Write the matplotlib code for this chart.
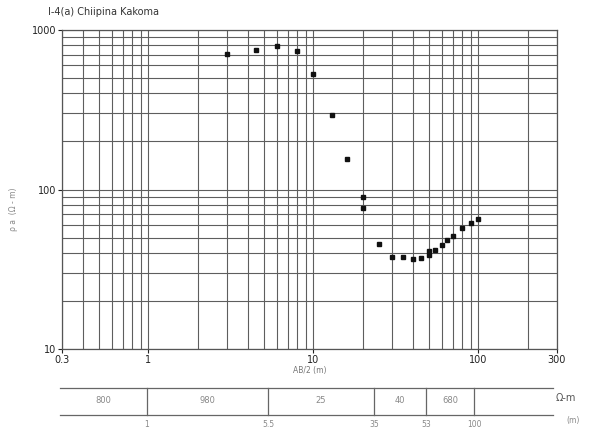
import matplotlib
matplotlib.use("Agg")
import matplotlib.pyplot as plt
from matplotlib.ticker import FixedLocator, NullFormatter

# Sounding data: half electrode spacing AB/2 (m) and apparent resistivity (ohm-m)
ab2 = [3, 4.5, 6, 8, 10, 13, 16, 20, 20, 25, 30, 35, 40, 45, 50, 50, 55,
       60, 65, 70, 80, 90, 100]
rho_a = [707, 750, 797, 735, 527, 293, 156, 90, 77, 45.5, 37.9, 37.8, 36.5,
         37, 38.7, 41.3, 41.8, 45, 48.2, 51, 57.6, 61.4, 65]

x_ticks = [0.3, 1, 10, 100, 300]
x_tick_labels = ["0.3", "1", "10", "100", "300"]
y_ticks = [10, 100, 1000]
y_tick_labels = ["10", "100", "1000"]

# Interpreted layer model
layer_resistivity = ["800", "980", "25", "40", "680", ""]
layer_depth_labels = ["1", "5.5", "35", "53", "100"]

title_text = "I-4(a) Chiipina Kakoma"

W, H = 591, 429
fig = plt.figure(figsize=(W / 100, H / 100), dpi=100)
fig.patch.set_facecolor("white")

# Main log-log sounding curve
ax = fig.add_axes([62 / W, 1 - 349 / H, (557 - 62) / W, (349 - 30) / H])
ax.set_xscale("log")
ax.set_yscale("log")
ax.set_xlim(0.3, 300)
ax.set_ylim(10, 1000)

grid_kw = dict(color="#5e5e5e", linewidth=0.8)
ax.grid(True, which="both", axis="both", **grid_kw)
ax.set_axisbelow(True)

ax.plot(ab2, rho_a, linestyle="none", marker="s", markersize=2.8,
        color="#111111", zorder=3)

ax.xaxis.set_major_locator(FixedLocator(x_ticks))
ax.set_xticklabels(x_tick_labels)
ax.yaxis.set_major_locator(FixedLocator(y_ticks))
ax.set_yticklabels(y_tick_labels)
ax.xaxis.set_minor_formatter(NullFormatter())
ax.yaxis.set_minor_formatter(NullFormatter())
ax.tick_params(which="major", length=3, width=0.8, labelsize=7, pad=1,
               colors="#222222")
ax.tick_params(which="minor", length=0)
for s in ax.spines.values():
    s.set_color("#555555")
    s.set_linewidth(0.9)

ax.set_xlabel("AB/2 (m)", fontsize=5.5, color="#777777", labelpad=1)
fig.text(14 / W, 1 - 209 / H, "ρ a  (Ω - m)", rotation=90, fontsize=5.5,
         color="#888888", ha="center", va="center")
fig.text(48 / W, 1 - 12 / H, title_text, fontsize=7, color="#333333",
         ha="left", va="center")

# Layer table beneath the curve (schematic, boundaries in table units)
tab = fig.add_axes([60 / W, 1 - 415 / H, (553 - 60) / W, (415 - 388) / H])
tab.set_xlim(0, 1)
tab.set_ylim(0, 1)
tab.axis("off")
boundaries = [0.0, 0.1765, 0.4219, 0.637, 0.742, 0.840, 1.0]
line_kw = dict(color="#666666", linewidth=0.9, clip_on=False)
tab.axhline(1, **line_kw)
tab.axhline(0, **line_kw)
for b in boundaries[1:-1]:
    tab.axvline(b, **line_kw)
for i, lab in enumerate(layer_resistivity):
    mid = (boundaries[i] + boundaries[i + 1]) / 2
    tab.text(mid, 0.52, lab, fontsize=6, color="#888888", ha="center",
             va="center")
for b, lab in zip(boundaries[1:-1], layer_depth_labels):
    tab.text(b, -0.35, lab, fontsize=5.5, color="#888888", ha="center",
             va="center", clip_on=False)

fig.text(556 / W, 1 - 398 / H, "Ω-m", fontsize=7, color="#555555",
         ha="left", va="center")
fig.text(566 / W, 1 - 421 / H, "(m)", fontsize=5.5, color="#888888",
         ha="left", va="center")

fig.savefig("out.png", dpi=100, facecolor="white")
